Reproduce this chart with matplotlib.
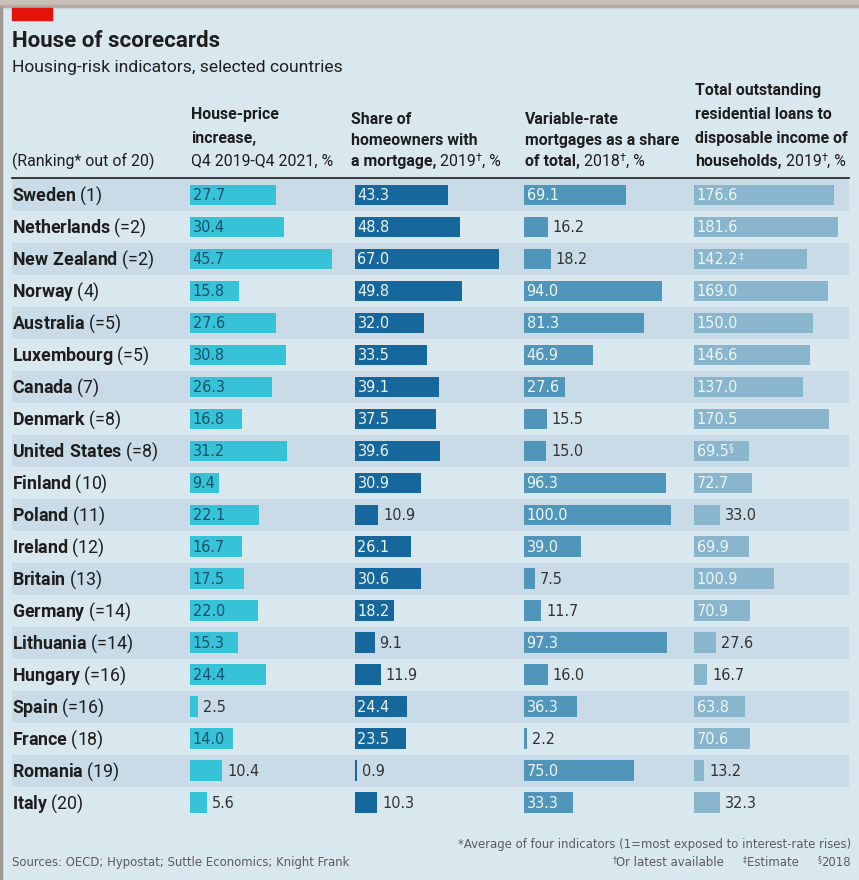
import matplotlib.pyplot as plt
import matplotlib.transforms as mtransforms
from matplotlib import font_manager
from matplotlib.patches import Rectangle

# --- data -------------------------------------------------------------
countries = ["Sweden", "Netherlands", "New Zealand", "Norway", "Australia",
             "Luxembourg", "Canada", "Denmark", "United States", "Finland",
             "Poland", "Ireland", "Britain", "Germany", "Lithuania",
             "Hungary", "Spain", "France", "Romania", "Italy"]
ranks = ["1", "=2", "=2", "4", "=5", "=5", "7", "=8", "=8", "10",
         "11", "12", "13", "=14", "=14", "=16", "=16", "18", "19", "20"]

house_price = [27.7, 30.4, 45.7, 15.8, 27.6, 30.8, 26.3, 16.8, 31.2, 9.4,
               22.1, 16.7, 17.5, 22.0, 15.3, 24.4, 2.5, 14.0, 10.4, 5.6]
mortgage_share = [43.3, 48.8, 67.0, 49.8, 32.0, 33.5, 39.1, 37.5, 39.6, 30.9,
                  10.9, 26.1, 30.6, 18.2, 9.1, 11.9, 24.4, 23.5, 0.9, 10.3]
variable_rate = [69.1, 16.2, 18.2, 94.0, 81.3, 46.9, 27.6, 15.5, 15.0, 96.3,
                 100.0, 39.0, 7.5, 11.7, 97.3, 16.0, 36.3, 2.2, 75.0, 33.3]
loans_income = [176.6, 181.6, 142.2, 169.0, 150.0, 146.6, 137.0, 170.5, 69.5, 72.7,
                33.0, 69.9, 100.9, 70.9, 27.6, 16.7, 63.8, 70.6, 13.2, 32.3]
loans_notes = ["", "", "‡", "", "", "", "", "", "§", "",
               "", "", "", "", "", "", "", "", "", ""]

# --- style ------------------------------------------------------------
W, H = 859, 880
BG = "#d9e7ef"
BAND = "#c8dbe6"
DARK = "#1e1e1e"
GREY = "#5c5c5c"

names = {f.name for f in font_manager.fontManager.ttflist}
MAIN = "Roboto" if "Roboto" in names else "DejaVu Sans"

# look for a condensed / narrow sans face for the numbers and footnotes
narrow_file = None
for f in font_manager.fontManager.ttflist:
    if f.weight in (400, "normal", "regular") and f.style == "normal" and (
            "Narrow" in f.name or "Condensed" in f.name
            or str(f.stretch) in ("condensed", "semi-condensed", "75", "87")):
        narrow_file = f.fname
        break


def num_font(size):
    if narrow_file:
        return font_manager.FontProperties(fname=narrow_file, size=size)
    return font_manager.FontProperties(family=MAIN, size=size)


plt.rcParams["font.family"] = [MAIN, "DejaVu Sans"]
plt.rcParams["mathtext.fontset"] = "custom"
plt.rcParams["mathtext.rm"] = MAIN
plt.rcParams["mathtext.bf"] = MAIN + ":bold"

fig = plt.figure(figsize=(W / 100, H / 100), dpi=100)
fig.patch.set_facecolor(BG)
renderer = fig.canvas.get_renderer()

# transform for figure pixel coordinates, origin top-left
PX = mtransforms.Affine2D().scale(1 / W, -1 / H).translate(0, 1) + fig.transFigure


def px_axes(x0, y0, x1, y1):
    ax = fig.add_axes([x0 / W, 1 - y1 / H, (x1 - x0) / W, (y1 - y0) / H])
    ax.set_axis_off()
    return ax


def rich(x, y, parts, transform=PX):
    """Draw a line made of (text, weight, size, rise, color) pieces."""
    offset = 0.0
    for text, weight, size, rise, color in parts:
        tr = mtransforms.offset_copy(transform, fig=fig, x=offset, y=rise, units="dots")
        t = fig.text(x, y, text, transform=tr, fontsize=size, fontweight=weight,
                     color=color, va="baseline", ha="left",
                     family=[MAIN, "DejaVu Sans"])
        offset += t.get_window_extent(renderer=renderer).width
    return offset


# --- frame decoration ---------------------------------------------------
fig.patches.append(Rectangle((0, 0), W, 7, transform=PX, color="#c9c0b7", zorder=0))
fig.patches.append(Rectangle((0, 5), W, 2, transform=PX, color="#b3aaa2", zorder=0))
fig.patches.append(Rectangle((0, 7), 2, H, transform=PX, color="#9f9893", zorder=0))
fig.patches.append(Rectangle((12, 8), 40, 12, transform=PX, color="#e3120b", zorder=1))

# --- titles -------------------------------------------------------------
fig.text(12, 47, "House of scorecards", transform=PX, fontsize=16,
         fontweight="bold", color=DARK, va="baseline")
fig.text(12, 72, "Housing-risk indicators, selected countries", transform=PX,
         fontsize=12.6, color=DARK, va="baseline")

# --- column headers -----------------------------------------------------
HS = 11.4
b = lambda s: (s, "bold", HS, 0, DARK)
r = lambda s: (s, "normal", HS, 0, DARK)
sup = lambda s: (s, "normal", HS * 0.7, 5, DARK)

rich(12, 166, [r("(Ranking* out of 20)")])
headers = [
    (191, [119, 142.5, 166], [[b("House-price")], [b("increase,")],
                              [r("Q4 2019-Q4 2021, %")]]),
    (351, [124, 145, 166], [[b("Share of")], [b("homeowners with")],
                            [b("a mortgage,"), r(" 2019"), sup("†"), r(", %")]]),
    (525, [124, 145, 166], [[b("Variable-rate")], [b("mortgages as a share")],
                            [b("of total,"), r(" 2018"), sup("†"), r(", %")]]),
    (695, [95, 119, 143, 166], [[b("Total outstanding")], [b("residential loans to")],
                                [b("disposable income of")],
                                [b("households,"), r(" 2019"), sup("†"), r(", %")]]),
]
for x, ys, lines in headers:
    for y, parts in zip(ys, lines):
        rich(x, y, parts)

fig.add_artist(plt.Line2D([12, 849], [178, 178], transform=PX, color="#2b2b2b", lw=1.3))

# --- row bands and labels -----------------------------------------------
n = len(countries)
ROW_TOP, ROW_BOT = 179, 818.5
base = px_axes(12, ROW_TOP, 849, ROW_BOT)
base.set_xlim(0, 1)
base.set_ylim(n - 0.5, -0.5)
for i in range(0, n, 2):
    base.axhspan(i - 0.5, i + 0.5, color=BAND, lw=0)

LS = 12.8
row_tr = mtransforms.offset_copy(
    mtransforms.blended_transform_factory(PX, base.transData), fig=fig, y=-6, units="dots")
for i, (name, rank) in enumerate(zip(countries, ranks)):
    bold_name = name.replace(" ", r"\ ")
    fig.text(12, i, r"$\mathbf{" + bold_name + "}$ (" + rank + ")", transform=row_tr,
             fontsize=LS, color=DARK, va="baseline", ha="left")

# --- bar columns ---------------------------------------------------------
columns = [
    (190, 3.107, house_price, "#36c3d7", "#17506e", None),
    (355, 2.149, mortgage_share, "#15679c", "#eef6fa", None),
    (524, 1.470, variable_rate, "#4f96ba", "#eef6fa", None),
    (694, 0.793, loans_income, "#89b6cd", "#eef6fa", loans_notes),
]
COL_W = 155
NUM = 11.6 if narrow_file else 10.8
PAD = 5
for x0, ppu, vals, color, in_color, notes in columns:
    ax = px_axes(x0, ROW_TOP, x0 + COL_W, ROW_BOT)
    ax.set_xlim(0, COL_W / ppu)
    ax.set_ylim(n - 0.5, -0.5)
    ax.barh(range(n), vals, height=0.64, color=color, lw=0)
    for i, v in enumerate(vals):
        label = f"{v:.1f}"
        bar_w = ax.transData.transform((v, 0))[0] - ax.transData.transform((0, 0))[0]
        t = ax.text(0, i, label, fontproperties=num_font(NUM), color=in_color,
                    transform=mtransforms.offset_copy(ax.transData, fig=fig, x=2.5, y=-5,
                                                      units="dots"),
                    va="baseline", ha="left")
        tw = t.get_window_extent(renderer=renderer).width
        dx = 2.5
        if tw + PAD > bar_w:
            dx = 5
            t.set_transform(mtransforms.offset_copy(ax.transData, fig=fig, x=dx, y=-5,
                                                    units="dots"))
            t.set_x(v)
            t.set_color("#333333")
        if notes and notes[i]:
            ax.text(t.get_position()[0], i, notes[i], fontproperties=num_font(NUM * 0.65),
                    color=t.get_color(),
                    transform=mtransforms.offset_copy(ax.transData, fig=fig,
                                                      x=dx + tw + 0.5, y=0, units="dots"),
                    va="baseline", ha="left")

# --- footnotes -----------------------------------------------------------
FS = 9.4 if narrow_file else 8.8
fig.text(12, 866, "Sources: OECD; Hypostat; Suttle Economics; Knight Frank", transform=PX,
         fontproperties=num_font(FS), color=GREY, va="baseline")
fig.text(851, 848, "*Average of four indicators (1=most exposed to interest-rate rises)",
         transform=PX, fontproperties=num_font(FS), color=GREY,
         va="baseline", ha="right")
foot_parts = [("†", 0.65, 4), ("Or latest available     ", 1, 0), ("‡", 0.65, 4),
              ("Estimate     ", 1, 0), ("§", 0.65, 4), ("2018", 1, 0)]
off = 0
placed = []
for s, scale, rise in foot_parts:
    t = fig.text(0, 866, s, transform=PX, fontproperties=num_font(FS * scale),
                 color=GREY, va="baseline")
    w = t.get_window_extent(renderer=renderer).width
    placed.append((t, off, rise))
    off += w
for t, o, rise in placed:
    t.set_transform(mtransforms.offset_copy(PX, fig=fig, x=851 - off + o, y=rise, units="dots"))

fig.savefig("out.png", dpi=100, facecolor=BG)
